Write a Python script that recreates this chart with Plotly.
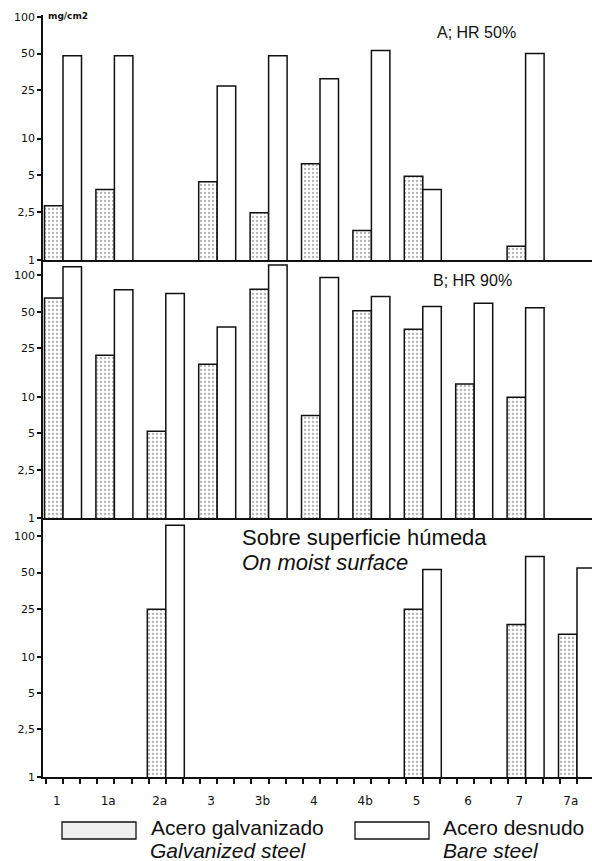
import plotly.graph_objects as go

# ---------------- data ----------------
categories = ["1", "1a", "2a", "3", "3b", "4", "4b", "5", "6", "7", "7a"]

a_galvanized = [2.8, 3.8, None, 4.4, 2.45, 6.2, 1.75, 4.9, None, 1.3, None]
a_bare = [48, 48, None, 27, 48, 31, 53, 3.8, None, 50, None]

b_galvanized = [65, 22, 5.2, 18.5, 77, 7.0, 51, 36, 12.7, 9.9, None]
b_bare = [118, 76, 71, 37.5, 122, 96, 67, 55.5, 59, 54, None]

c_galvanized = [None, None, 24.8, None, None, None, None, 24.8, None, 18.5, 15.4]
c_bare = [None, None, 124, None, None, None, None, 53, None, 68, 54.6]

series_names = ["Acero galvanizado", "Acero desnudo"]
series_names_en = ["Galvanized steel", "Bare steel"]

y_tick_values = [1, 2.5, 5, 10, 25, 50, 100]
y_tick_text = ["1", "2,5", "5", "10", "25", "50", "100"]

panel_titles = ["A; HR 50%", "B; HR 90%"]
moist_title = ["Sobre superficie húmeda", "On moist surface"]
unit_label = "mg/cm2"

# ---------------- layout helpers ----------------
W, H = 592, 861
L, R, T, B = 43, 0, 15, 84
PW, PH = W - L - R, H - T - B
Y0 = H - B  # pixel of bottom of plot area


def fx(p):
    return (p - L) / PW


def fy(p):
    return (Y0 - p) / PH


xs = list(range(len(categories)))
LINE = "#111111"

galv_marker = dict(
    color="white",
    line=dict(color=LINE, width=1.5),
    pattern=dict(shape=".", fgcolor="#666666", bgcolor="white", size=4, solidity=0.25),
)
bare_marker = dict(color="white", line=dict(color=LINE, width=1.5))

fig = go.Figure()
panels = [(a_galvanized, a_bare, "x", "y"),
          (b_galvanized, b_bare, "x2", "y2"),
          (c_galvanized, c_bare, "x3", "y3")]
for g, bvals, xa, ya in panels:
    fig.add_trace(go.Bar(x=xs, y=g, name=series_names[0], marker=galv_marker,
                         xaxis=xa, yaxis=ya, showlegend=False))
    fig.add_trace(go.Bar(x=xs, y=bvals, name=series_names[1], marker=bare_marker,
                         xaxis=xa, yaxis=ya, showlegend=False))

x_range = [(L - 63) / 51.4, (W - 63) / 51.4]
tick_font = dict(family="DejaVu Sans", size=11, color=LINE)

common_x = dict(range=x_range, showline=True, linecolor=LINE, linewidth=1.5,
                showgrid=False, zeroline=False, ticks="", showticklabels=False)

common_y = dict(type="log", showline=True, linecolor=LINE, linewidth=1.5,
                showgrid=False, zeroline=False, ticks="outside", ticklen=4,
                tickwidth=1.5, tickcolor=LINE, tickmode="array",
                tickvals=y_tick_values, ticktext=y_tick_text, tickfont=tick_font)

# panel pixel geometry (top, baseline=1, decade px)
pa = (15, 260, 121.5)
pb = (260, 518, 121.3)
pc = (520, 777, 120.3)

fig.update_layout(
    width=W, height=H,
    margin=dict(l=L, r=R, t=T, b=B),
    paper_bgcolor="white", plot_bgcolor="white",
    barmode="group", bargap=0.28, bargroupgap=0,
    xaxis=dict(common_x, anchor="y", domain=[0, 1]),
    xaxis2=dict(common_x, anchor="y2", domain=[0, 1]),
    xaxis3=dict(common_x, anchor="y3", domain=[0, 1],
                showticklabels=True, tickmode="array",
                tickvals=[i - 0.12 for i in xs], ticktext=categories,
                tickfont=dict(family="DejaVu Sans", size=12, color=LINE),
                ticklabelstandoff=12,
                minor=dict(ticks="outside", ticklen=5, tickwidth=1.5,
                           tickcolor=LINE, tickmode="linear", tick0=0, dtick=1 / 3)),
    yaxis=dict(common_y, anchor="x", domain=[fy(pa[1]), fy(pa[0])],
               range=[0, (pa[1] - pa[0]) / pa[2]]),
    yaxis2=dict(common_y, anchor="x2", domain=[fy(pb[1]), fy(pb[0])],
                range=[0, (pb[1] - pb[0]) / pb[2]]),
    yaxis3=dict(common_y, anchor="x3", domain=[fy(pc[1]), fy(pc[0])],
                range=[0, (pc[1] - pc[0]) / pc[2]]),
)

ann = []


def text(s, px, py, size, italic=False, bold=False, family="Liberation Sans"):
    if bold:
        s = "<b>" + s + "</b>"
    if italic:
        s = "<i>" + s + "</i>"
    ann.append(dict(text=s, x=fx(px), y=fy(py), xref="paper", yref="paper",
                    xanchor="left", yanchor="middle", showarrow=False,
                    borderpad=0,
                    font=dict(family=family, size=size, color=LINE)))


text(unit_label, 47, 16, 9, bold=True, family="DejaVu Sans")
text(panel_titles[0], 436, 33, 16)
text(panel_titles[1], 432, 280, 16)
text(moist_title[0], 241, 537, 22)
text(moist_title[1], 241, 562, 22, italic=True)

# legend
text(series_names[0], 150, 827, 21)
text(series_names_en[0], 149, 851, 21, italic=True)
text(series_names[1], 442, 827, 21)
text(series_names_en[1], 442, 851, 21, italic=True)

fig.update_layout(annotations=ann)

shapes = [
    dict(type="rect", xref="paper", yref="paper", x0=fx(62), x1=fx(136),
         y0=fy(839), y1=fy(822), line=dict(color=LINE, width=1.3),
         fillcolor="#efefef"),
    dict(type="rect", xref="paper", yref="paper", x0=fx(355), x1=fx(429),
         y0=fy(839), y1=fy(822), line=dict(color=LINE, width=1.3),
         fillcolor="white"),
]
fig.update_layout(shapes=shapes)

fig.write_html("out.html")
